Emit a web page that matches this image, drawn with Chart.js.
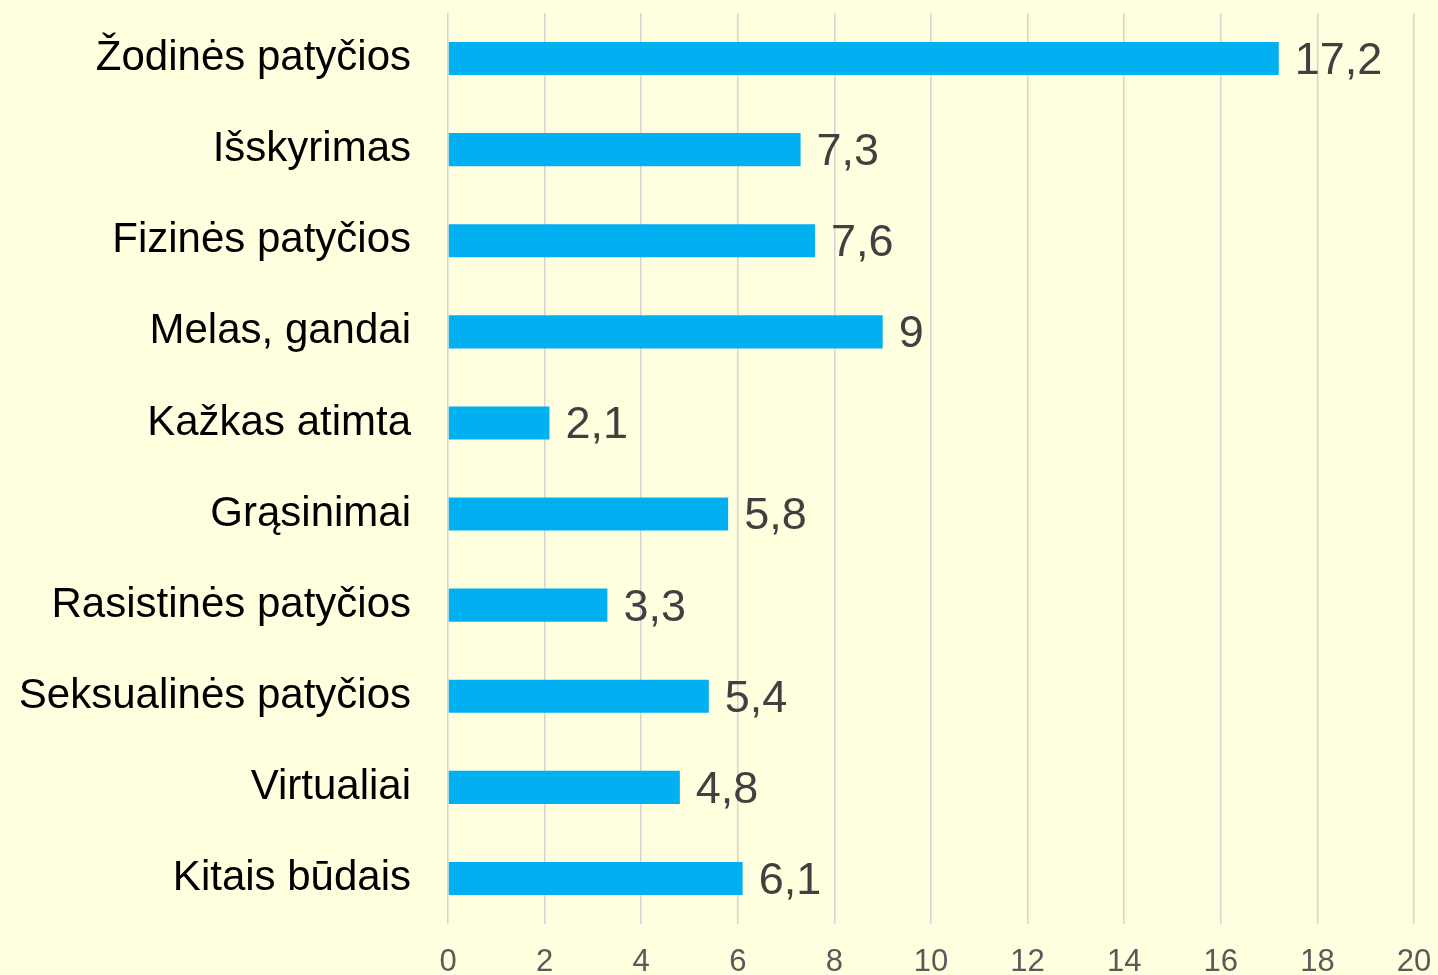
<!DOCTYPE html>
<html>
<head>
<meta charset="utf-8">
<script src="https://cdn.jsdelivr.net/npm/chart.js@4/dist/chart.umd.min.js"></script>
<style>
  html, body { margin: 0; padding: 0; background: #FFFFE0; }
  #wrap { width: 1438px; height: 975px; }
</style>
</head>
<body>
<div id="wrap"><canvas id="bullyChart" width="1438" height="975"></canvas></div>
<script>
const categories = [
  "Žodinės patyčios",
  "Išskyrimas",
  "Fizinės patyčios",
  "Melas, gandai",
  "Kažkas atimta",
  "Grąsinimai",
  "Rasistinės patyčios",
  "Seksualinės patyčios",
  "Virtualiai",
  "Kitais būdais"
];
const values = [17.2, 7.3, 7.6, 9, 2.1, 5.8, 3.3, 5.4, 4.8, 6.1];
const xMin = 0;
const xMax = 20;
const xStep = 2;

// data labels next to the bars (no datalabels plugin offline)
const barLabels = {
  id: "barLabels",
  afterDatasetsDraw(chart) {
    const ctx = chart.ctx;
    const meta = chart.getDatasetMeta(0);
    ctx.save();
    ctx.font = "45px 'Liberation Sans', Arial, sans-serif";
    ctx.fillStyle = "#404040";
    ctx.textAlign = "left";
    ctx.textBaseline = "middle";
    meta.data.forEach((bar, i) => {
      const txt = String(values[i]).replace(".", ",");
      ctx.fillText(txt, bar.x + 16, bar.y + 3);
    });
    ctx.restore();
  }
};

new Chart(document.getElementById("bullyChart").getContext("2d"), {
  type: "bar",
  data: {
    labels: categories,
    datasets: [{
      data: values,
      backgroundColor: "#00B0F0",
      borderWidth: 0,
      categoryPercentage: 1,
      barPercentage: 0.363
    }]
  },
  options: {
    indexAxis: "y",
    responsive: false,
    animation: false,
    layout: { padding: { top: 13, right: 24, left: 0, bottom: 0 } },
    plugins: {
      legend: { display: false },
      tooltip: { enabled: false }
    },
    scales: {
      x: {
        min: xMin,
        max: xMax,
        ticks: {
          stepSize: xStep,
          color: "#595959",
          font: { family: "'Liberation Sans', Arial, sans-serif", size: 31 },
          padding: 20
        },
        grid: { color: "#d4d4d4", lineWidth: 1.5, drawTicks: false },
        border: { display: false },
        afterFit: s => {
          s.height = 51;
          s.paddingLeft = 0;
          s.paddingRight = 0;
        }
      },
      y: {
        ticks: {
          color: "#000000",
          font: { family: "'Liberation Sans', Arial, sans-serif", size: 42 },
          padding: 29
        },
        grid: { display: false },
        border: { display: false },
        afterFit: s => {
          s.width = 448;
          s.paddingTop = 0;
          s.paddingBottom = 0;
        }
      }
    }
  },
  plugins: [barLabels]
});
</script>
</body>
</html>
